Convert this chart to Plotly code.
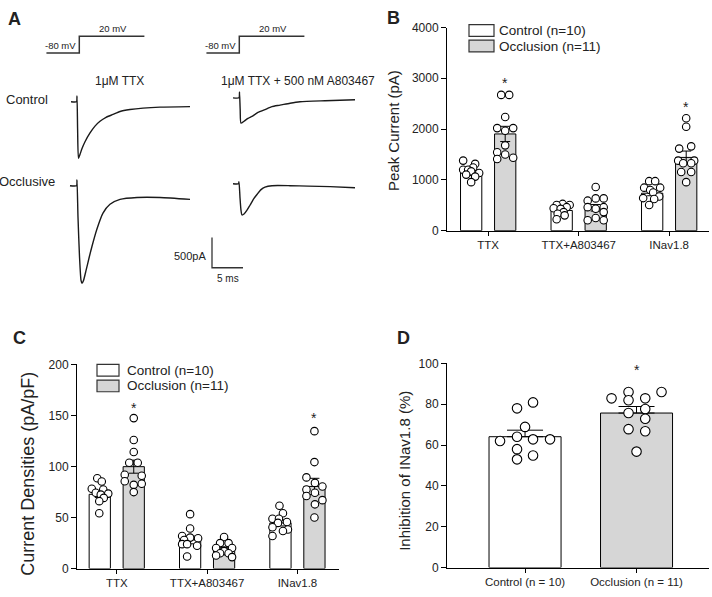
import plotly.graph_objects as go

W, H = 712, 597
FONT = "Liberation Sans, Arial, sans-serif"
GREY = "#d6d6d6"

groups = ["TTX", "TTX+A803467", "INav1.8"]
d_groups = ["Control (n = 10)", "Occlusion (n = 11)"]

# ---- panel A: example traces (time in ms, current in pA, relative to holding)
ctrl_ttx_t = [-0.97, -0.08, 0.0, 0.10, 0.24, 0.48, 0.81, 1.29, 2.10, 2.90, 3.71, 4.68, 5.81, 6.94, 8.55, 10.65, 13.39, 18.23]
ctrl_ttx_i = [0, 0, 97, -468, -935, -871, -774, -661, -516, -403, -323, -258, -210, -161, -129, -105, -89, -81]
occl_ttx_t = [-1.13, -0.08, 0.0, 0.16, 0.40, 0.65, 0.81, 1.05, 1.45, 1.94, 2.42, 3.23, 4.19, 5.32, 6.94, 9.68, 13.39, 18.23]
occl_ttx_i = [0, 0, 97, -516, -1161, -1565, -1613, -1565, -1403, -1194, -1000, -710, -452, -307, -226, -194, -194, -226]
ctrl_a8_t = [-1.05, -0.08, 0.0, 0.11, 0.24, 0.73, 1.37, 2.02, 2.98, 4.11, 5.24, 6.53, 8.15, 9.76, 13.79, 18.63]
ctrl_a8_i = [0, 0, 97, -194, -419, -387, -339, -307, -242, -194, -145, -121, -89, -65, -48, -32]
occl_a8_t = [-0.97, -0.08, 0.0, 0.16, 0.32, 0.48, 0.81, 1.29, 1.77, 2.42, 2.90, 3.55, 4.19, 5.32, 8.23, 11.13, 14.68, 18.71]
occl_a8_i = [0, 0, 32, -226, -436, -516, -500, -436, -355, -242, -177, -97, -56, -32, -32, -40, -48, -65]

# voltage protocol
step_t = [-5.3, 0, 0, 10.5]
step_v = [-80, -80, 20, 20]

# scale bar: 500 pA / 5 ms
sb_t = [0, 0, 5]
sb_i = [500, 0, 0]

# ---- panel B: peak current (pA)
peak_ctrl_mean = [1135, 397, 737]
peak_ctrl_sem = [45, 30, 50]
peak_occl_mean = [1904, 450, 1442]
peak_occl_sem = [150, 65, 125]
peak_ctrl_pts = [
    [1379, 1314, 1244, 1199, 1199, 1167, 1135, 1103, 1064, 955],
    [526, 506, 506, 462, 442, 429, 365, 333, 301, 224],
    [974, 974, 846, 846, 801, 750, 673, 641, 622, 506],
]
peak_occl_pts = [
    [2673, 2673, 2237, 2019, 2019, 1968, 1679, 1545, 1500, 1436, 1410],
    [859, 635, 635, 590, 462, 462, 430, 365, 250, 205, 205],
    [2212, 2045, 1660, 1615, 1378, 1378, 1327, 1327, 1154, 1154, 955],
]
peak_star = [2960, 2490]

# ---- panel C: current densities (pA/pF)
dens_ctrl_mean = [72.7, 28, 44.7]
dens_ctrl_sem = [3.2, 3.8, 3]
dens_occl_mean = [99.8, 18.5, 80.4]
dens_occl_sem = [6.4, 1.8, 8]
dens_ctrl_pts = [
    [88.4, 85.2, 78.2, 77.5, 74.3, 73.4, 72.4, 69.2, 66, 54.2],
    [53.3, 39.2, 31.9, 30.3, 29.7, 28, 23.9, 23.9, 22.3, 11.8],
    [61.5, 54.2, 48.8, 48.8, 45.6, 44.7, 40.5, 38.3, 36.7, 31.9],
]
dens_occl_pts = [
    [147.4, 126, 114.2, 103.6, 103.6, 91.9, 90.9, 85.5, 83, 82, 74.9],
    [30.9, 24.9, 24.9, 20.1, 20.1, 17.5, 17, 15, 15, 12.7, 11.2],
    [134.6, 104.3, 89.3, 83.9, 80.4, 77.5, 74.3, 71.1, 67, 62.9, 50],
]
dens_star = [160.5, 150.9]

# ---- panel D: inhibition of INav1.8 (%)
inh_mean = [64.1, 75.7]
inh_sem = [3.2, 3.2]
inh_ctrl_pts = [78, 80.9, 68.9, 62, 64.1, 62.8, 62.8, 58, 54.9, 53]
inh_occl_pts = [86, 86, 82.9, 82, 82.9, 77.7, 75.7, 72.9, 67.8, 66.8, 56.8]
inh_star = 98.5

# horizontal scatter of the dots, in pixels from bar centre (as drawn)
jit_b_ctrl = [[-8, 4, 2, -8, -3, 0, 8, -5, 4, 0],
              [1, -5, 8, 5, -8, -1, 2, -4, 3, -5],
              [-3, 3, -8, 8, -2, 1, 7, -9, 2, -3]]
jit_b_occl = [[-4, 4, 0, -8, 8, 0, 0, -8, 0, 8, -8],
              [0, 0, 8, -8, -8, 8, 0, 8, 0, -8, 8],
              [0, 0, 5, -7, -8, 8, -3, 5, -5, 5, 0]]
jit_c_ctrl = [[-2.5, 2, -8, 3.5, -4, 8.5, 1, 4, -0.5, -0.5],
              [0, 0, -8, 0, 8, -6, -8, -3, 7, -3],
              [-1, 2.5, -8, -1.5, 6.5, -2.5, -8, 7.5, 2.5, -8]]
jit_c_occl = [[0, 0, 0, -4.5, 4, -9, 8, -9, 8, 0, 0],
              [0, -4, 4.5, -8, 8, 0, 0, -4, 4.5, -8, 8],
              [0, 0, -8, 0.5, 8, -8, 0.5, -8, 8, 0.5, 0]]
jit_d_ctrl = [-8, 8, 0, -25, -8, 8, 25, -8, 8, -8]
jit_d_occl = [-8, 25, -25, -8, 8.7, 8.7, -8, 8.7, -8, 8.7, 0]


def pxx(px):
    return px / W


def pxy(py):
    return 1 - py / H


fig = go.Figure()
layout = {}
annotations = []
shapes = []


def text(x, y, s, size, **kw):
    a = dict(x=x, y=y, text=s, showarrow=False, xanchor="center", yanchor="middle",
             xref="paper", yref="paper", font=dict(size=size, family=FONT, color="#222"))
    a.update(kw)
    annotations.append(a)


# ---------------- bar panels ----------------
def bar_axes(n, box, xr, yr, tickvals, ticktext, dtick):
    left, top, right, bottom = box
    xs = "xaxis" if n == 1 else f"xaxis{n}"
    ys = "yaxis" if n == 1 else f"yaxis{n}"
    layout[xs] = dict(domain=[pxx(left), pxx(right)], range=xr, anchor="y" if n == 1 else f"y{n}",
                      showline=True, linecolor="black", linewidth=1, ticks="outside", ticklen=4,
                      tickcolor="black", tickvals=tickvals, ticktext=ticktext, showgrid=False,
                      zeroline=False, tickfont=dict(size=11.5, family=FONT, color="#222"))
    layout[ys] = dict(domain=[pxy(bottom), pxy(top)], range=yr, anchor="x" if n == 1 else f"x{n}",
                      showline=True, linecolor="black", linewidth=1, ticks="outside", ticklen=5,
                      tickcolor="black", dtick=dtick, showgrid=False, zeroline=False,
                      tickfont=dict(size=12, family=FONT, color="#222"))


def add_group(xa, ya, xc, means, sems, pts, jits, fill, bw, unit, msize, cap, minus=None):
    err = dict(type="data", array=sems, visible=True, color="black", thickness=1, width=cap)
    if minus is not None:
        err.update(symmetric=False, arrayminus=minus)
    fig.add_trace(go.Bar(x=xc, y=means, width=bw, marker=dict(color=fill, line=dict(color="black", width=1)),
                         error_y=err, xaxis=xa, yaxis=ya, showlegend=False, hoverinfo="skip"))
    xs, ys = [], []
    for c, p, j in zip(xc, pts, jits):
        xs += [c + o * unit for o in j]
        ys += p
    fig.add_trace(go.Scatter(x=xs, y=ys, mode="markers", xaxis=xa, yaxis=ya, showlegend=False,
                             marker=dict(symbol="circle", size=msize, color="white",
                                         line=dict(color="black", width=1.1))))


gx = [0, 1, 2]
off = 0.188
bw = 0.235

# B
bar_axes(1, (447, 21, 709, 229), [-0.455, 2.44], [0, 4000], gx, groups, 1000)
u = 1 / 90.5
add_group("x", "y", [g - off for g in gx], peak_ctrl_mean, peak_ctrl_sem, peak_ctrl_pts, jit_b_ctrl, "white", bw, u, 7.5, 5)
add_group("x", "y", [g + off for g in gx], peak_occl_mean, peak_occl_sem, peak_occl_pts, jit_b_occl, GREY, bw, u, 7.5, 5)
for g, s in zip([0, 2], peak_star):
    text(g + off, s, "*", 14, xref="x", yref="y", yshift=-3)

# C
bar_axes(2, (77, 366, 339, 575), [-0.44, 2.46], [0, 200], gx, groups, 50)
add_group("x2", "y2", [g - off for g in gx], dens_ctrl_mean, dens_ctrl_sem, dens_ctrl_pts, jit_c_ctrl, "white", bw, u, 7.5, 5)
add_group("x2", "y2", [g + off for g in gx], dens_occl_mean, dens_occl_sem, dens_occl_pts, jit_c_occl, GREY, bw, u, 7.5, 5)
for g, s in zip([0, 2], dens_star):
    text(g + off, s, "*", 14, xref="x2", yref="y2", yshift=-3)

# D
bar_axes(3, (447, 365, 709, 574), [-0.70, 1.65], [0, 100], [0, 1], d_groups, 20)
ud = 1 / 111.5
add_group("x3", "y3", [0], [inh_mean[0]], [inh_sem[0]], [inh_ctrl_pts], [jit_d_ctrl], "white", 0.646, ud, 9.5, 18, minus=[0])
add_group("x3", "y3", [1], [inh_mean[1]], [inh_sem[1]], [inh_occl_pts], [jit_d_occl], GREY, 0.646, ud, 9.5, 18, minus=[0])
text(1, inh_star, "*", 14, xref="x3", yref="y3", yshift=-3)

# axis titles
text(pxx(393), pxy(127), "Peak Current (pA)", 15, textangle=-90)
text(pxx(28), pxy(478), "Current Densities (pA/pF)", 18, textangle=-90)
text(pxx(405), pxy(475), "Inhibition of INav1.8 (%)", 15, textangle=-90)

# legends (B and C)
for (bx0, bx1, y1, y2, tx) in [(469, 494, 24, 40, 497), (97, 119, 372, 388, 125)]:
    for yc, fill, lab in [(y1, "white", "Control (n=10)"), (y2, GREY, "Occlusion (n=11)")]:
        shapes.append(dict(type="rect", xref="paper", yref="paper", x0=pxx(bx0), x1=pxx(bx1),
                           y0=pxy(yc + 6), y1=pxy(yc - 6), fillcolor=fill,
                           line=dict(color="#333", width=1.2)))
        text(pxx(tx), pxy(yc), lab, 13.5, xanchor="left")

# ---------------- panel A ----------------
PX_MS = 6.2      # pixels per ms
PX_PA = 0.062    # pixels per pA
PX_MV = 0.17     # pixels per mV
ax_n = [4]


def small_axes(box, origin, sy):
    n = ax_n[0]
    ax_n[0] += 1
    left, top, right, bottom = box
    x0, y0 = origin
    layout[f"xaxis{n}"] = dict(domain=[pxx(left), pxx(right)], anchor=f"y{n}", visible=False,
                               range=[(left - x0) / PX_MS, (right - x0) / PX_MS])
    layout[f"yaxis{n}"] = dict(domain=[pxy(bottom), pxy(top)], anchor=f"x{n}", visible=False,
                               range=[(y0 - bottom) / sy, (y0 - top) / sy])
    return f"x{n}", f"y{n}"


def add_line(xa, ya, t, v, color="#1a1a1a", w=1.4, shape="spline"):
    fig.add_trace(go.Scatter(x=t, y=v, mode="lines", xaxis=xa, yaxis=ya, showlegend=False,
                             line=dict(color=color, width=w, shape=shape, smoothing=0.6),
                             hoverinfo="skip"))


for box, origin, t, i in [
    ((65, 80, 200, 165), (77, 97), ctrl_ttx_t, ctrl_ttx_i),
    ((65, 170, 200, 292), (77, 183), occl_ttx_t, occl_ttx_i),
    ((228, 80, 362, 125), (239.5, 93), ctrl_a8_t, ctrl_a8_i),
    ((228, 170, 362, 222), (239, 181), occl_a8_t, occl_a8_i),
]:
    xa, ya = small_axes(box, origin, PX_PA)
    add_line(xa, ya, t, i)

# voltage steps
for box, origin in [((40, 15, 150, 52), (79.3, 33.4)), ((200, 15, 310, 52), (239.3, 33.4))]:
    xa, ya = small_axes(box, origin, PX_MV)
    add_line(xa, ya, step_t, step_v, color="#333", w=1.5, shape="linear")
    text(0, step_v[0], "-80 mV", 9.5, xref=xa, yref=ya, xanchor="right", yanchor="bottom", xshift=-1)
    text(5.4, step_v[-1], "20 mV", 9.5, xref=xa, yref=ya, yanchor="bottom")

# scale bar
xa, ya = small_axes((200, 225, 260, 290), (212, 267), PX_PA)
add_line(xa, ya, sb_t, sb_i, color="#333", w=1.3, shape="linear")
text(0, sb_i[0] / 2, "500pA", 11, xref=xa, yref=ya, xanchor="right", xshift=-4, yshift=-3)
text(sb_t[-1] / 2, 0, "5 ms", 10, xref=xa, yref=ya, yanchor="top", yshift=-3)

text(pxx(27.5), pxy(95), "Control", 13)
text(pxx(27.5), pxy(179), "Occlusive", 13)
text(pxx(119), pxy(76), "1μM TTX", 12)
text(pxx(298), pxy(76), "1μM TTX + 500 nM A803467", 12)

# panel letters
for lab, x, y in [("A", 14, 12), ("B", 393, 11), ("C", 19, 339), ("D", 403, 339)]:
    text(pxx(x), pxy(y), f"<b>{lab}</b>", 18)

fig.update_layout(
    width=W, height=H, margin=dict(l=0, r=0, t=0, b=0),
    paper_bgcolor="white", plot_bgcolor="rgba(0,0,0,0)",
    barmode="overlay", showlegend=False,
    font=dict(family=FONT, color="#222"),
    annotations=annotations, shapes=shapes,
    **layout,
)

# page has a default 8px body margin; drop it so the figure sits at the window origin
fig.write_html("out.html", config={"displayModeBar": False, "staticPlot": True},
               post_script="document.body.style.margin='0';document.body.style.overflow='hidden';")
